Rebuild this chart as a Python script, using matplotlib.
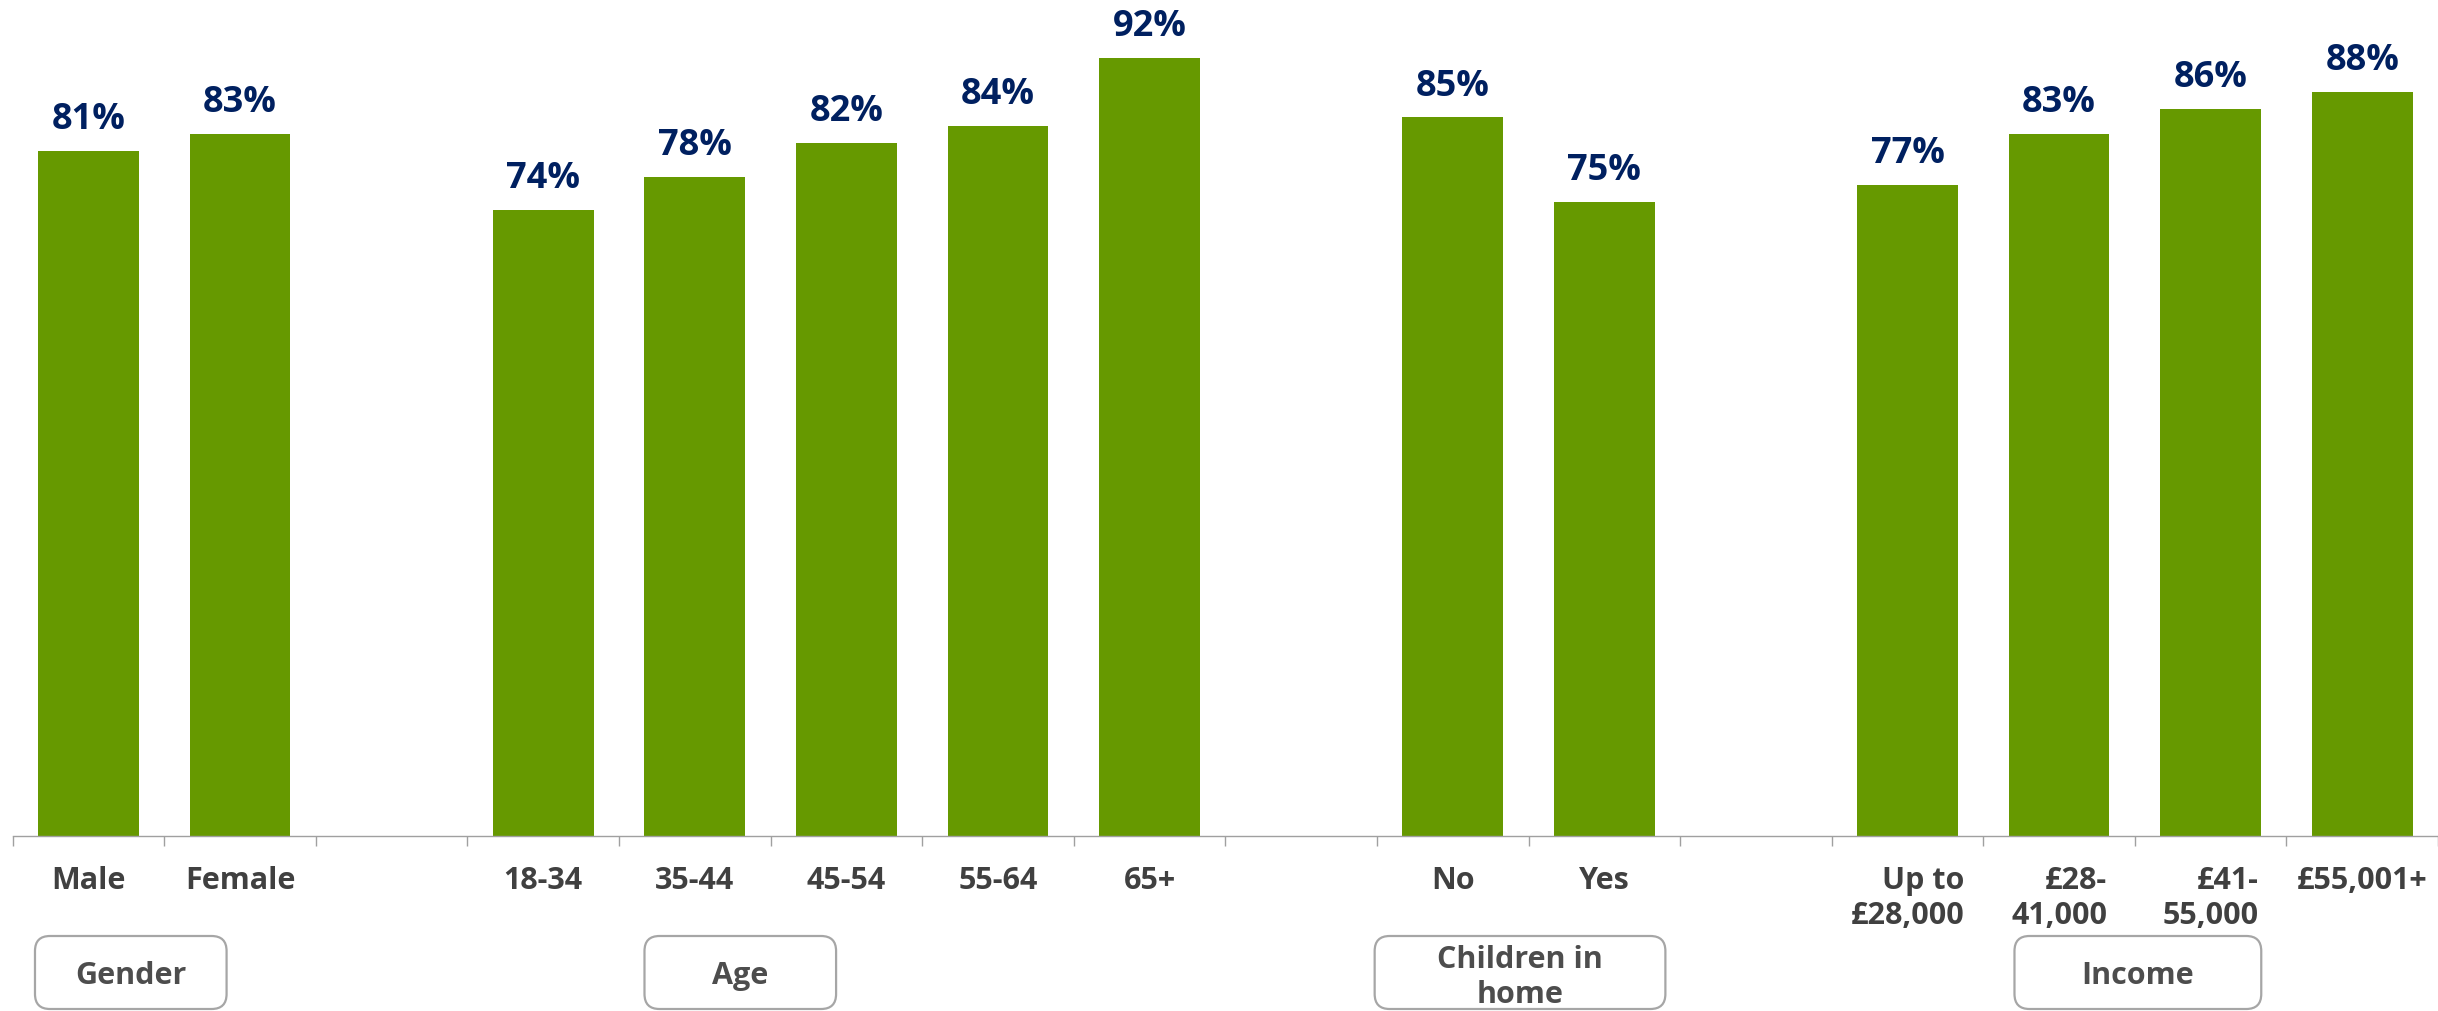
import matplotlib
matplotlib.use("Agg")
import matplotlib.pyplot as plt
from matplotlib.patches import FancyBboxPatch
from matplotlib.transforms import IdentityTransform
from matplotlib import font_manager

# ---- data ----
categories = ["Male", "Female", "",
              "18-34", "35-44", "45-54", "55-64", "65+", "",
              "No", "Yes", "",
              "Up to\n£28,000", "£28-\n41,000", "£41-\n55,000", "£55,001+"]
values = [81, 83, None,
          74, 78, 82, 84, 92, None,
          85, 75, None,
          77, 83, 86, 88]
group_names = ["Gender", "Age", "Children in\nhome", "Income"]
# box spans in category (data) units
group_spans = [(-0.353, 0.911), (3.668, 4.932), (8.485, 10.403), (12.706, 14.334)]

BAR = "#669900"
NAVY = "#002060"
GREY_TXT = "#404040"
AXIS = "#a0a0a0"
BOX = "#a6a6a6"

# pick a family that really has a bold face
fam = "DejaVu Sans"
for cand in ["Open Sans", "Noto Sans", "Lato", "Roboto"]:
    try:
        p = font_manager.findfont(font_manager.FontProperties(family=cand, weight="bold"),
                                  fallback_to_default=False)
        if "bold" in p.lower():
            fam = cand
            break
    except Exception:
        pass
plt.rcParams['font.family'] = [fam, 'DejaVu Sans']

W, H = 2438, 1011
fig = plt.figure(figsize=(W / 100, H / 100), dpi=100)
ax = fig.add_axes([12.7 / W, (H - 835.7) / H, 1 - 12.7 / W, 835.7 / H])

xs = list(range(len(categories)))
for x, v in zip(xs, values):
    if v is None:
        continue
    ax.bar(x, v, width=0.664, color=BAR, edgecolor="none")
    ax.annotate(f"{v}%", (x, v), xytext=(0, 15.8), textcoords="offset points",
                ha="center", va="baseline", fontsize=26, fontweight="bold",
                color=NAVY)

ax.set_xlim(-0.5, len(categories) - 0.5)
ax.set_ylim(0, 98.9)
ax.set_yticks([])
for s in ["top", "right", "left"]:
    ax.spines[s].set_visible(False)
ax.spines["bottom"].set_color(AXIS)
ax.spines["bottom"].set_linewidth(1.0)

ax.set_xticks(xs)
ax.set_xticklabels(categories)
ax.set_xticks([i - 0.5 for i in range(len(categories) + 1)], minor=True)
ax.tick_params(axis="x", which="major", length=0, pad=21.5, labelsize=22,
               labelcolor=GREY_TXT)
ax.tick_params(axis="x", which="minor", length=7.2, width=1.0, color=AXIS)
for lbl in ax.get_xticklabels():
    lbl.set_fontweight("bold")
    lbl.set_multialignment("right")
    lbl.set_linespacing(1.25)

# group boxes
fig.canvas.draw()
y_top_px = H - 936
y_bot_px = H - 1009
for name, (x0, x1) in zip(group_names, group_spans):
    px0 = ax.transData.transform((x0, 0))[0]
    px1 = ax.transData.transform((x1, 0))[0]
    patch = FancyBboxPatch((px0, y_bot_px), px1 - px0, y_top_px - y_bot_px,
                           boxstyle="round,pad=0,rounding_size=15",
                           transform=IdentityTransform(), facecolor="white",
                           edgecolor=BOX, linewidth=1.6, clip_on=False)
    fig.patches.append(patch)
    cx = (px0 + px1) / 2
    if "\n" in name:
        base = H - 1002.7   # baseline of the last line
    else:
        base = H - 984
    fig.text(cx / W, base / H, name, ha="center", va="baseline",
             fontsize=22, fontweight="bold", color="#4d4d4d",
             multialignment="center", linespacing=1.22)

fig.savefig("out.png", dpi=100, facecolor="white")
